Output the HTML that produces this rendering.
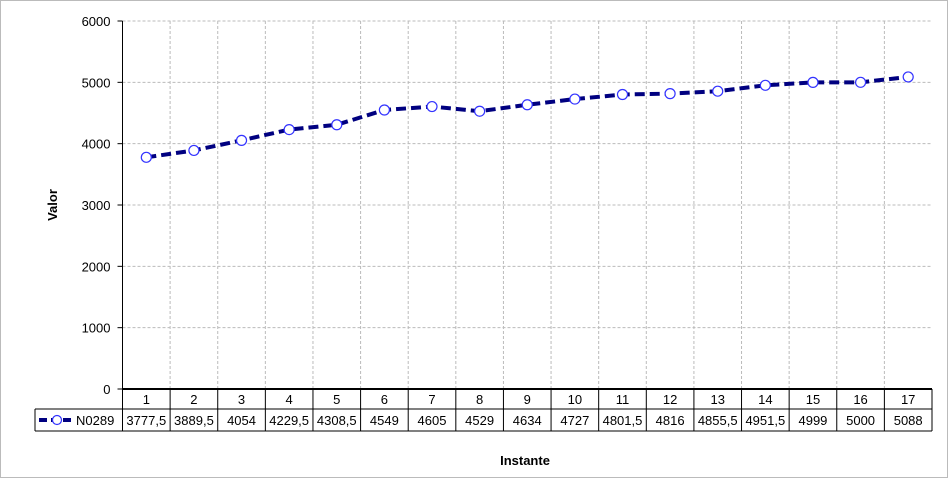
<!DOCTYPE html>
<html><head><meta charset="utf-8"><style>
body{margin:0;background:#fff;font-family:"Liberation Sans",Arial,sans-serif}
svg text{font-family:"Liberation Sans",Arial,sans-serif}
</style></head><body>
<svg id="c" width="949" height="479" xmlns="http://www.w3.org/2000/svg">
<rect x="0.5" y="0.5" width="947" height="477" fill="#fff" stroke="#bbb"/>
<g id="g"></g>
<text x="57" y="205" font-size="13" font-weight="bold" text-anchor="middle" transform="rotate(-90 57 205)">Valor</text>
<text x="525" y="465" font-size="13" font-weight="bold" text-anchor="middle">Instante</text>
</svg>
<script>
const categories=["1","2","3","4","5","6","7","8","9","10","11","12","13","14","15","16","17"];
const values=[3777.5,3889.5,4054,4229.5,4308.5,4549,4605,4529,4634,4727,4801.5,4816,4855.5,4951.5,4999,5000,5088];
const labels=["3777,5","3889,5","4054","4229,5","4308,5","4549","4605","4529","4634","4727","4801,5","4816","4855,5","4951,5","4999","5000","5088"];
const yTicks=[0,1000,2000,3000,4000,5000,6000];
const L=122.5,R=932,T=21,B=389,NS="http://www.w3.org/2000/svg";
const cw=(R-L)/categories.length;
const xs=i=>L+cw*(i+0.5), ys=v=>B-(v/6000)*(B-T);
const g=document.getElementById('g');
function mk(t,a,p){const e=document.createElementNS(NS,t);for(const k in a)e.setAttribute(k,a[k]);(p||g).appendChild(e);return e;}
yTicks.forEach(v=>{
 if(v>0){const l=mk('line',{x1:L,x2:R,y1:ys(v),y2:ys(v),stroke:'#bbb','stroke-dasharray':'3,2'});
 
 }
 const tk=mk('line',{x1:L-5,x2:L,y1:ys(v),y2:ys(v),stroke:'#000'});
 
 
 const t=mk('text',{x:L-12,y:ys(v)+5,'font-size':13,'text-anchor':'end'});t.textContent=v;
 
 
});
for(let i=1;i<categories.length;i++){const l=mk('line',{x1:L+cw*i,x2:L+cw*i,y1:T,y2:B,stroke:'#bbb','stroke-dasharray':'3,2'});
 
 }
const ax=mk('line',{x1:L,x2:L,y1:T,y2:B,stroke:'#000'});


const r1=389,r2=409,r3=431,lx=35;
const tb=mk('g',{stroke:'#000','stroke-width':1,fill:'none'});


mk('line',{x1:L,x2:R,y1:r1,y2:r1,'stroke-width':2},tb);
mk('line',{x1:lx,x2:R,y1:r2,y2:r2},tb);
mk('line',{x1:lx,x2:R,y1:r3,y2:r3},tb);
mk('line',{x1:lx,x2:lx,y1:r2,y2:r3},tb);
for(let i=0;i<=categories.length;i++)mk('line',{x1:L+cw*i,x2:L+cw*i,y1:r1,y2:r3},tb);
categories.forEach((c,i)=>{
 const t=mk('text',{x:xs(i),y:r1+15,'font-size':13,'text-anchor':'middle'});t.textContent=c;
 
 
 const u=mk('text',{x:xs(i),y:r2+16,'font-size':13,'text-anchor':'middle'});u.textContent=labels[i];
 
 
});
const lg=mk('g',{});


mk('line',{x1:39,x2:72,y1:420,y2:420,stroke:'#000080','stroke-width':4,'stroke-dasharray':'8,4'},lg);
mk('circle',{cx:57,cy:420,r:4.5,fill:'#fff',stroke:'#3333ff','stroke-width':1.2},lg);
const lt=mk('text',{x:76,y:425,'font-size':13},lg);lt.textContent='N0289';
const pts=values.map((v,i)=>xs(i)+','+ys(v)).join(' ');
const pl=mk('polyline',{points:pts,fill:'none',stroke:'#000080','stroke-width':4,'stroke-dasharray':'10,5'});


values.forEach((v,i)=>{const c=mk('circle',{cx:xs(i),cy:ys(v),r:5,fill:'#fff',stroke:'#3333ff','stroke-width':1.2});
 
 });
</script>
</body></html>
